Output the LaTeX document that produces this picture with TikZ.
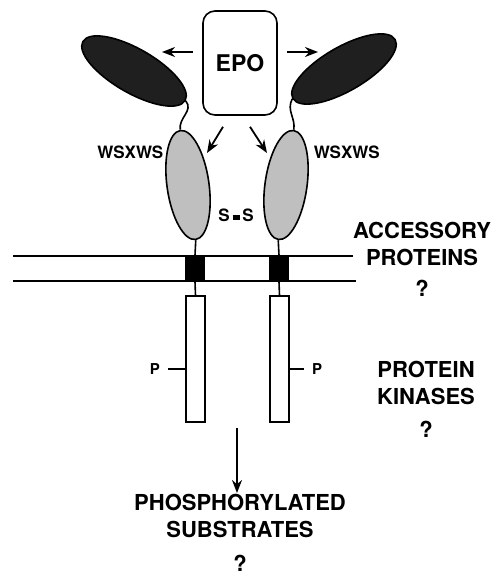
\documentclass[tikz,border=0pt]{standalone}
\usepackage{fontspec}
\setmainfont{TeX Gyre Heros}
\usetikzlibrary{shapes.geometric,arrows.meta}

\begin{document}
\begin{tikzpicture}[x=1pt,y=-1pt,line width=1.6pt,
  big/.style={font=\fontsize{22}{27}\selectfont\bfseries,align=center,inner sep=0pt},
  small/.style={font=\fontsize{17}{20}\selectfont\bfseries,inner sep=0pt},
  arr/.style={line width=1.8pt,-{Stealth[length=13pt,width=10pt]}},
  head/.style={ellipse,draw,fill=black!88,minimum width=118pt,minimum height=44pt},
  stalk/.style={ellipse,draw,fill=black!25,minimum width=42pt,minimum height=110pt},
  anchorbox/.style={draw,fill=black,minimum width=18pt,minimum height=25pt,inner sep=0pt},
  tail/.style={draw,fill=white,minimum width=19pt,minimum height=126pt,inner sep=0pt}]
\useasboundingbox (0,0) rectangle (497,581);
% ligand
\node[draw,rounded corners=12pt,minimum width=74pt,minimum height=104pt,inner sep=0pt,
  font=\fontsize{23}{27}\selectfont\bfseries] (epo) at (240,63) {EPO};
\coordinate (al) at (162,52);
\coordinate (ar) at (318,52);
\coordinate (adl) at (207,153);
\coordinate (adr) at (267,153);
\draw[arr] ([xshift=-9pt,yshift=11pt]epo.west) -- (al);
\draw[arr] ([xshift=9pt,yshift=11pt]epo.east) -- (ar);
\draw[arr] ([xshift=-17pt,yshift=-11pt]epo.south) -- (adl);
\draw[arr] ([xshift=10pt,yshift=-11pt]epo.south) -- (adr);
% receptor chains
\node[head,rotate=-30] (hl) at (134,71) {};
\node[head,rotate=30] (hr) at (344,69) {};
\node[stalk,rotate=8] (sl) at (188,185) {};
\node[stalk,rotate=-8] (sr) at (286,185) {};
\draw (hl.east) .. controls +(8,10) and +(-2,-12) .. (sl.north);
\draw (hr.west) .. controls +(-6,12) and +(2,-12) .. (sr.north);
\node[small,anchor=east] (wl) at (164,152) {WSXWS};
\node[small,anchor=west] (wr) at (313,152) {WSXWS};
\node[small] (ss) at (236,215) {S\,\rule[0.15ex]{7pt}{5pt}\,S};
% membrane
\draw[line width=1.8pt] (13,256) -- (353,256);
\draw[line width=1.8pt] (13,281) -- (356,281);
\node[anchorbox] (ml) at (195,268.5) {};
\node[anchorbox] (mr) at (279,268.5) {};
\node[tail] (tl) at (195.5,359) {};
\node[tail] (tr) at (279.5,359) {};
\draw (sl.south) -- (ml.north);
\draw (sr.south) -- (mr.north);
\draw (ml.south) -- (tl.north);
\draw (mr.south) -- (tr.north);
% phosphorylation sites
\node[small,font=\fontsize{15}{18}\selectfont\bfseries] (pl) at (155,369) {P};
\node[small,font=\fontsize{15}{18}\selectfont\bfseries] (pr) at (317,369) {P};
\draw ([yshift=-10pt]tl.west) -- ([xshift=7pt]pl.east);
\draw ([yshift=-10pt]tr.east) -- ([xshift=-7pt]pr.west);
% labels
\node[big] (acc) at (422,259) {ACCESSORY\\PROTEINS\\[4pt]?};
\node[big] (kin) at (426,399) {PROTEIN\\KINASES\\[6pt]?};
\node[big,anchor=north] (sub) at (240,493) {PHOSPHORYLATED\\SUBSTRATES\\[7pt]?};
\coordinate (ad) at (237,428);
\draw[arr] (ad) -- (ad |- sub.north);
\end{tikzpicture}
\end{document}
